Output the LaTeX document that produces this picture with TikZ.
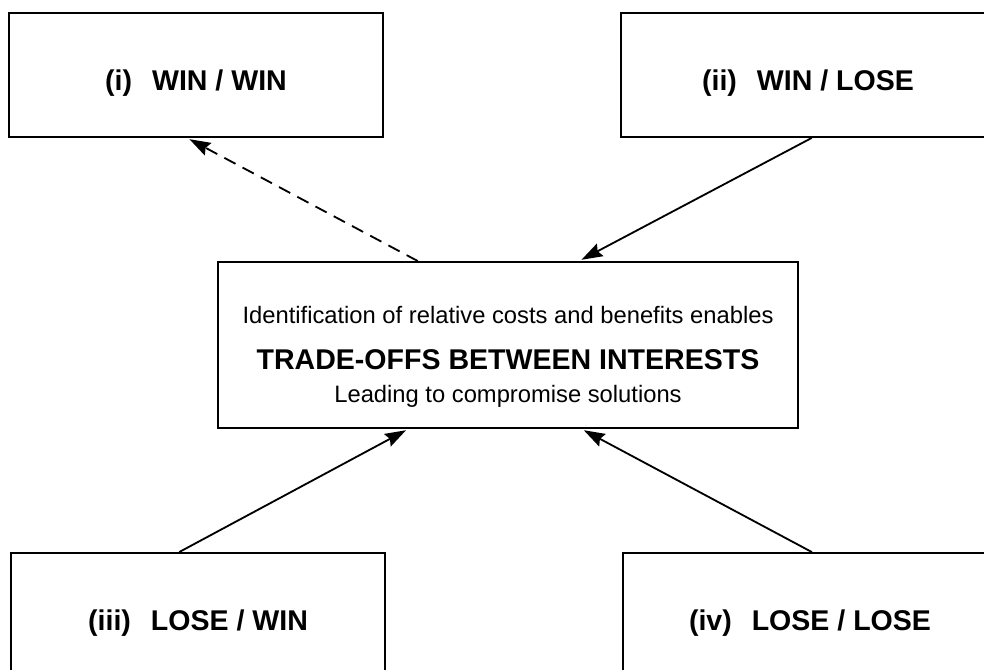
\documentclass[tikz,border=0pt]{standalone}
\usepackage{fontspec}
\setmainfont{Liberation Sans}
\usetikzlibrary{arrows.meta,calc}

\begin{document}
\begin{tikzpicture}[
    outcome/.style={draw=black, line width=1.3pt, minimum width=9.35cm, minimum height=3.1cm, inner sep=0pt,
        font=\fontsize{20.3}{24}\selectfont\bfseries, text height=22pt, text depth=0pt},
    tradeoff/.style={draw=black, line width=1.3pt, minimum width=14.5cm, minimum height=4.15cm, inner sep=0pt,
        align=center, font=\fontsize{16.9}{20}\selectfont},
    link/.style={draw=black, line width=1.3pt, -{Stealth[length=15pt, width=10pt, inset=2pt]}, shorten >=2pt},
    maybe/.style={link, dash pattern=on 9pt off 5.7pt}
]
    \useasboundingbox (0,0) rectangle (24.6,16.75);
    \clip (0,0) rectangle (24.6,16.75);

    \node[outcome] (win_win) at (4.9,14.875) {(i)\hspace{0.7em}WIN / WIN};
    \node[outcome] (win_lose) at (20.2,14.875) {(ii)\hspace{0.7em}WIN / LOSE};
    \node[outcome] (lose_win) at (4.95,1.375) {(iii)\hspace{0.7em}LOSE / WIN};
    \node[outcome] (lose_lose) at (20.25,1.375) {(iv)\hspace{0.7em}LOSE / LOSE};

    \node[tradeoff] (trade) at (12.7,8.125) {\rule{0pt}{28.5pt}Identification of relative costs and benefits enables\\[12.7pt]
        {\fontsize{20.3}{20}\selectfont\bfseries TRADE-OFFS BETWEEN INTERESTS}\\[3.5pt]
        Leading to compromise solutions};

    \coordinate (win_win_foot) at ($(win_win.south west)!0.476!(win_win.south east)$);
    \coordinate (win_lose_foot) at ($(win_lose.south west)!0.51!(win_lose.south east)$);
    \coordinate (lose_win_head) at ($(lose_win.north west)!0.45!(lose_win.north east)$);
    \coordinate (lose_lose_head) at ($(lose_lose.north west)!0.505!(lose_lose.north east)$);

    \coordinate (trade_top_left) at ($(trade.north west)!0.345!(trade.north east)$);
    \coordinate (trade_top_right) at ($(trade.north west)!0.622!(trade.north east)$);
    \coordinate (trade_bottom_left) at ($(trade.south west)!0.329!(trade.south east)$);
    \coordinate (trade_bottom_right) at ($(trade.south west)!0.626!(trade.south east)$);

    \path[maybe] (trade_top_left) -- (win_win_foot);
    \path[link] (win_lose_foot) -- (trade_top_right);
    \path[link] (lose_win_head) -- (trade_bottom_left);
    \path[link] (lose_lose_head) -- (trade_bottom_right);

\end{tikzpicture}
\end{document}
